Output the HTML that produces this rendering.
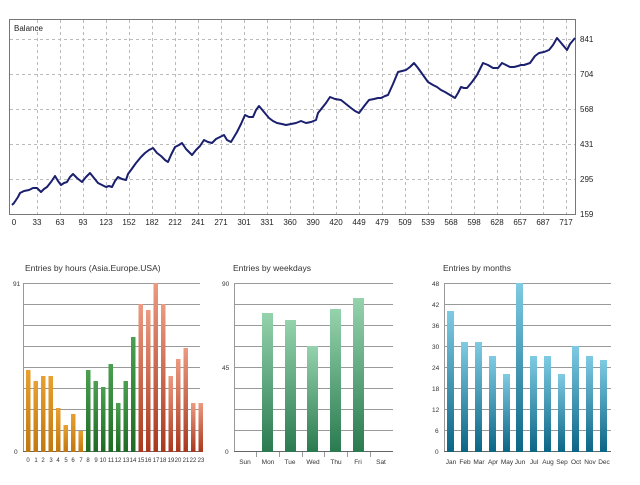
<!DOCTYPE html>
<html><head><meta charset="utf-8"><style>
body{margin:0;background:#fff;width:640px;height:480px;overflow:hidden;font-family:"Liberation Sans",sans-serif}
svg text{font-family:"Liberation Sans",sans-serif}
</style></head><body>
<svg width="640" height="480" viewBox="0 0 640 480" xmlns="http://www.w3.org/2000/svg">
<defs>
<linearGradient id="gg" x1="0" y1="0" x2="0" y2="1"><stop offset="0" stop-color="#95d3ad"/><stop offset="1" stop-color="#2a7a50"/></linearGradient>
<linearGradient id="bg" x1="0" y1="0" x2="0" y2="1"><stop offset="0" stop-color="#7fcbe3"/><stop offset="1" stop-color="#0b6585"/></linearGradient>
<linearGradient id="og" x1="0" y1="0" x2="0" y2="1"><stop offset="0" stop-color="#e8a030"/><stop offset="1" stop-color="#c07810"/></linearGradient>
<linearGradient id="grg" x1="0" y1="0" x2="0" y2="1"><stop offset="0" stop-color="#4aa050"/><stop offset="1" stop-color="#1f6a25"/></linearGradient>
<linearGradient id="rg" x1="0" y1="0" x2="0" y2="1"><stop offset="0" stop-color="#ec9a80"/><stop offset="1" stop-color="#a8381e"/></linearGradient>
</defs>
<!-- Balance chart -->
<rect x="9.5" y="19.5" width="566" height="195" fill="#fff" stroke="#777"/>
<g stroke="#bbb" stroke-dasharray="3,3" stroke-width="1">
<line x1="10" x2="575" y1="39.5" y2="39.5"/><line x1="10" x2="575" y1="74.5" y2="74.5"/><line x1="10" x2="575" y1="109.5" y2="109.5"/><line x1="10" x2="575" y1="144.5" y2="144.5"/><line x1="10" x2="575" y1="179.5" y2="179.5"/>
<line x1="37.5" x2="37.5" y1="20" y2="214"/><line x1="60.5" x2="60.5" y1="20" y2="214"/><line x1="83.5" x2="83.5" y1="20" y2="214"/><line x1="106.5" x2="106.5" y1="20" y2="214"/><line x1="129.5" x2="129.5" y1="20" y2="214"/><line x1="152.5" x2="152.5" y1="20" y2="214"/><line x1="175.5" x2="175.5" y1="20" y2="214"/><line x1="198.5" x2="198.5" y1="20" y2="214"/><line x1="221.5" x2="221.5" y1="20" y2="214"/><line x1="244.5" x2="244.5" y1="20" y2="214"/><line x1="267.5" x2="267.5" y1="20" y2="214"/><line x1="290.5" x2="290.5" y1="20" y2="214"/><line x1="313.5" x2="313.5" y1="20" y2="214"/><line x1="336.5" x2="336.5" y1="20" y2="214"/><line x1="359.5" x2="359.5" y1="20" y2="214"/><line x1="382.5" x2="382.5" y1="20" y2="214"/><line x1="405.5" x2="405.5" y1="20" y2="214"/><line x1="428.5" x2="428.5" y1="20" y2="214"/><line x1="451.5" x2="451.5" y1="20" y2="214"/><line x1="474.5" x2="474.5" y1="20" y2="214"/><line x1="497.5" x2="497.5" y1="20" y2="214"/><line x1="520.5" x2="520.5" y1="20" y2="214"/><line x1="543.5" x2="543.5" y1="20" y2="214"/><line x1="566.5" x2="566.5" y1="20" y2="214"/>
</g>
<text x="14" y="31" font-size="8" fill="#222">Balance</text>
<polyline fill="none" stroke="#1a1f6e" stroke-width="2" stroke-linejoin="round" points="12,205 14,203 16,200 18,197 20,193 24,191 29,190 33,188 37,188 41,192 44,189 47,187 51,182 55,176 58,181 61,185 64,183 67,182 70,177 73,174 77,178 82,182 86,177 90,173 94,178 98,183 102,185 106,187 109,186 112,187 115,181 118,177 122,179 126,180 128,174 131,170 136,163 141,157 145,153 149,150 153,148 157,153 161,156 165,160 168,162 171,155 175,147 179,145 182,143 186,149 192,155 196,150 200,146 204,140 208,142 212,143 216,139 220,137 224,135 227,140 231,142 234,137 237,132 241,124 245,115 249,117 253,117 256,110 259,106 264,112 269,118 273,121 277,123 282,124 286,125 291,124 296,123 301,121 306,123 311,122 316,120 318,113 322,108 326,103 330,97 335,99 341,100 346,104 351,108 355,111 359,113 362,109 365,105 369,100 374,99 378,98 381,98 385,96 388,95 393,84 398,72 402,71 406,70 410,67 414,63 418,68 423,75 428,82 433,85 437,87 441,90 445,92 450,95 455,98 458,93 461,87 464,88 467,88 472,82 477,75 480,69 483,63 488,65 493,68 498,68 502,63 506,65 510,67 514,67 518,66 521,65 524,65 527,64 530,63 535,56 539,53 544,52 549,50 553,45 557,38 562,44 567,50 570,44 575,38"/>
<g font-size="8" fill="#222">
<text x="580" y="42">841</text><text x="580" y="77">704</text><text x="580" y="112">568</text><text x="580" y="147">431</text><text x="580" y="182">295</text><text x="580" y="217">159</text>
</g>
<g font-size="8" fill="#222" text-anchor="middle">
<text x="14" y="225">0</text><text x="37" y="225">33</text><text x="60" y="225">63</text><text x="83" y="225">93</text><text x="106" y="225">123</text><text x="129" y="225">152</text><text x="152" y="225">182</text><text x="175" y="225">212</text><text x="198" y="225">241</text><text x="221" y="225">271</text><text x="244" y="225">301</text><text x="267" y="225">331</text><text x="290" y="225">360</text><text x="313" y="225">390</text><text x="336" y="225">420</text><text x="359" y="225">449</text><text x="382" y="225">479</text><text x="405" y="225">509</text><text x="428" y="225">539</text><text x="451" y="225">568</text><text x="474" y="225">598</text><text x="497" y="225">628</text><text x="520" y="225">657</text><text x="543" y="225">687</text><text x="566" y="225">717</text>
</g>

<!-- Hours chart -->
<text x="25" y="271" font-size="8.5" fill="#333">Entries by hours (Asia.Europe.USA)</text>
<g stroke="#999" stroke-width="1">
<line x1="23" x2="200" y1="283.5" y2="283.5"/><line x1="23" x2="200" y1="304.5" y2="304.5"/><line x1="23" x2="200" y1="325.5" y2="325.5"/><line x1="23" x2="200" y1="346.5" y2="346.5"/><line x1="23" x2="200" y1="367.5" y2="367.5"/><line x1="23" x2="200" y1="388.5" y2="388.5"/><line x1="23" x2="200" y1="409.5" y2="409.5"/><line x1="23" x2="200" y1="430.5" y2="430.5"/>
<line x1="23.5" x2="23.5" y1="283" y2="452"/><line x1="23" x2="200" y1="451.5" y2="451.5" stroke="#666"/>
</g>
<g font-size="6.5" fill="#333"><text x="13" y="286">91</text><text x="14" y="454">0</text></g>
<g fill="url(#og)">
<rect x="26" y="370" width="4.5" height="82"/><rect x="33.5" y="381" width="4.5" height="71"/><rect x="41" y="376" width="4.5" height="76"/><rect x="48.5" y="376" width="4.5" height="76"/><rect x="56" y="408" width="4.5" height="44"/><rect x="63.5" y="425" width="4.5" height="27"/><rect x="71" y="414" width="4.5" height="38"/><rect x="78.5" y="431" width="4.5" height="21"/>
</g>
<g fill="url(#grg)">
<rect x="86" y="370" width="4.5" height="82"/><rect x="93.5" y="381" width="4.5" height="71"/><rect x="101" y="387" width="4.5" height="65"/><rect x="108.5" y="364" width="4.5" height="88"/><rect x="116" y="403" width="4.5" height="49"/><rect x="123.5" y="381" width="4.5" height="71"/><rect x="131" y="337" width="4.5" height="115"/>
</g>
<g fill="url(#rg)">
<rect x="138.5" y="304" width="4.5" height="148"/><rect x="146" y="310" width="4.5" height="142"/><rect x="153.5" y="283" width="4.5" height="169"/><rect x="161" y="304" width="4.5" height="148"/><rect x="168.5" y="376" width="4.5" height="76"/><rect x="176" y="359" width="4.5" height="93"/><rect x="183.5" y="348" width="4.5" height="104"/><rect x="191" y="403" width="4.5" height="49"/><rect x="198.5" y="403" width="4.5" height="49"/>
</g>
<g font-size="6" fill="#333" text-anchor="middle">
<text x="28" y="462">0</text><text x="36" y="462">1</text><text x="43" y="462">2</text><text x="51" y="462">3</text><text x="58" y="462">4</text><text x="66" y="462">5</text><text x="73" y="462">6</text><text x="81" y="462">7</text><text x="88" y="462">8</text><text x="96" y="462">9</text><text x="103" y="462">10</text><text x="111" y="462">11</text><text x="118" y="462">12</text><text x="126" y="462">13</text><text x="133" y="462">14</text><text x="141" y="462">15</text><text x="148" y="462">16</text><text x="156" y="462">17</text><text x="163" y="462">18</text><text x="171" y="462">19</text><text x="178" y="462">20</text><text x="186" y="462">21</text><text x="193" y="462">22</text><text x="201" y="462">23</text>
</g>

<!-- Weekdays chart -->
<text x="233" y="271" font-size="8.5" fill="#333">Entries by weekdays</text>
<g stroke="#999" stroke-width="1">
<line x1="234" x2="393" y1="283.5" y2="283.5"/><line x1="234" x2="393" y1="304.5" y2="304.5"/><line x1="234" x2="393" y1="325.5" y2="325.5"/><line x1="234" x2="393" y1="346.5" y2="346.5"/><line x1="234" x2="393" y1="367.5" y2="367.5"/><line x1="234" x2="393" y1="388.5" y2="388.5"/><line x1="234" x2="393" y1="409.5" y2="409.5"/><line x1="234" x2="393" y1="430.5" y2="430.5"/>
<line x1="234.5" x2="234.5" y1="283" y2="452"/><line x1="234" x2="393" y1="451.5" y2="451.5" stroke="#666"/>
<line x1="256.5" x2="256.5" y1="452" y2="457"/><line x1="279.5" x2="279.5" y1="452" y2="457"/><line x1="302.5" x2="302.5" y1="452" y2="457"/><line x1="324.5" x2="324.5" y1="452" y2="457"/><line x1="347.5" x2="347.5" y1="452" y2="457"/><line x1="370.5" x2="370.5" y1="452" y2="457"/>
</g>
<g font-size="6.5" fill="#333"><text x="222" y="286">90</text><text x="222" y="370">45</text><text x="225" y="454">0</text></g>
<g fill="url(#gg)">
<rect x="262" y="313" width="11" height="139"/><rect x="285" y="320" width="11" height="132"/><rect x="307" y="346" width="11" height="106"/><rect x="330" y="309" width="11" height="143"/><rect x="353" y="298" width="11" height="154"/>
</g>
<g font-size="6.5" fill="#333" text-anchor="middle">
<text x="245" y="464">Sun</text><text x="268" y="464">Mon</text><text x="290" y="464">Tue</text><text x="313" y="464">Wed</text><text x="336" y="464">Thu</text><text x="358" y="464">Fri</text><text x="381" y="464">Sat</text>
</g>

<!-- Months chart -->
<text x="443" y="271" font-size="8.5" fill="#333">Entries by months</text>
<g stroke="#999" stroke-width="1">
<line x1="444" x2="611" y1="283.5" y2="283.5"/><line x1="444" x2="611" y1="304.5" y2="304.5"/><line x1="444" x2="611" y1="325.5" y2="325.5"/><line x1="444" x2="611" y1="346.5" y2="346.5"/><line x1="444" x2="611" y1="367.5" y2="367.5"/><line x1="444" x2="611" y1="388.5" y2="388.5"/><line x1="444" x2="611" y1="409.5" y2="409.5"/><line x1="444" x2="611" y1="430.5" y2="430.5"/>
<line x1="444.5" x2="444.5" y1="283" y2="452"/><line x1="444" x2="611" y1="451.5" y2="451.5" stroke="#666"/>
</g>
<g font-size="6.5" fill="#333"><text x="432" y="286">48</text><text x="432" y="307">42</text><text x="432" y="328">36</text><text x="432" y="349">30</text><text x="432" y="370">24</text><text x="432" y="391">18</text><text x="432" y="412">12</text><text x="435" y="433">6</text><text x="435" y="454">0</text></g>
<g fill="url(#bg)">
<rect x="447" y="311" width="7" height="141"/><rect x="461" y="342" width="7" height="110"/><rect x="475" y="342" width="7" height="110"/><rect x="489" y="356" width="7" height="96"/><rect x="503" y="374" width="7" height="78"/><rect x="516" y="283" width="7" height="169"/><rect x="530" y="356" width="7" height="96"/><rect x="544" y="356" width="7" height="96"/><rect x="558" y="374" width="7" height="78"/><rect x="572" y="346" width="7" height="106"/><rect x="586" y="356" width="7" height="96"/><rect x="600" y="360" width="7" height="92"/>
</g>
<g font-size="6.5" fill="#333" text-anchor="middle">
<text x="451" y="464">Jan</text><text x="465" y="464">Feb</text><text x="479" y="464">Mar</text><text x="493" y="464">Apr</text><text x="507" y="464">May</text><text x="520" y="464">Jun</text><text x="534" y="464">Jul</text><text x="548" y="464">Aug</text><text x="562" y="464">Sep</text><text x="576" y="464">Oct</text><text x="590" y="464">Nov</text><text x="604" y="464">Dec</text>
</g>
</svg>
</body></html>
